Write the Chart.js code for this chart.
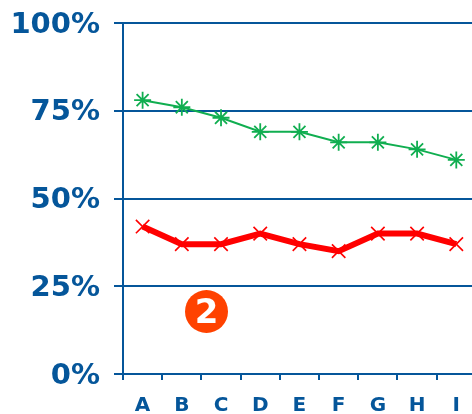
<!DOCTYPE html>
<html>
<head>
<meta charset="utf-8">
<style>
  html, body { margin: 0; padding: 0; background: #fff; overflow: hidden; }
  #wrap { position: relative; width: 472px; height: 414px; overflow: hidden; }
  #chartCanvas { position: absolute; left: 0; top: 0; }
  #badge {
    position: absolute; left: 185px; top: 290px; width: 43px; height: 43px;
    border-radius: 50%; background: #ff4200; color: #fff;
    font: bold 34px "DejaVu Sans", sans-serif; line-height: 43px; text-align: center;
  }
</style>
<script src="https://cdn.jsdelivr.net/npm/chart.js@4"></script>
</head>
<body>
<div id="wrap">
  <!-- wider than the window: the last category runs past the right edge -->
  <canvas id="chartCanvas" width="487" height="414"></canvas>
  <div id="badge">2</div>
</div>
<script>
const categories = ["A", "B", "C", "D", "E", "F", "G", "H", "I"];
const greenValues = [78, 76, 73, 69, 69, 66, 66, 64, 61];
const redValues = [42, 37, 37, 40, 37, 35, 40, 40, 37];

const BLUE = "#05569a";
const font = { family: '"DejaVu Sans", sans-serif', weight: "bold" };

new Chart(document.getElementById("chartCanvas"), {
  type: "line",
  data: {
    labels: categories,
    datasets: [
      {
        data: greenValues,
        borderColor: "#10ae50",
        borderWidth: 2,
        pointStyle: "star",
        pointRadius: 8.5,
        pointBorderColor: "#10ae50",
        pointBorderWidth: 1.8,
        tension: 0,
        clip: false
      },
      {
        data: redValues,
        borderColor: "#ff0000",
        borderWidth: 6,
        pointStyle: "crossRot",
        pointRadius: 9.5,
        pointBorderColor: "#ff0000",
        pointBorderWidth: 1.6,
        tension: 0,
        clip: false
      }
    ]
  },
  options: {
    responsive: false,
    animation: false,
    layout: { padding: { top: 23, right: 0, bottom: 0, left: 0 } },
    plugins: { legend: { display: false }, tooltip: { enabled: false } },
    scales: {
      x: {
        offset: true,
        // fixed axis size, and no extra room for the outer labels
        afterFit: axis => {
          axis.height = 40;
          axis.paddingLeft = 0;
          axis.paddingRight = 0;
        },
        border: { color: BLUE, width: 2 },
        grid: {
          color: BLUE,
          lineWidth: 2,
          drawOnChartArea: false,
          drawTicks: true,
          tickLength: 6,
          offset: true
        },
        ticks: {
          color: BLUE,
          padding: 14,
          maxRotation: 0,
          font: { ...font, size: 20 }
        }
      },
      y: {
        min: 0,
        max: 100,
        afterFit: axis => {
          axis.width = 123;
          axis.paddingTop = 0;
          axis.paddingBottom = 0;
        },
        border: { color: BLUE, width: 2 },
        grid: { color: BLUE, lineWidth: 2, tickLength: 9 },
        ticks: {
          stepSize: 25,
          color: BLUE,
          padding: 14,
          labelOffset: 2,
          callback: v => v + "%",
          font: { ...font, size: 29 }
        }
      }
    }
  }
});
</script>
</body>
</html>
